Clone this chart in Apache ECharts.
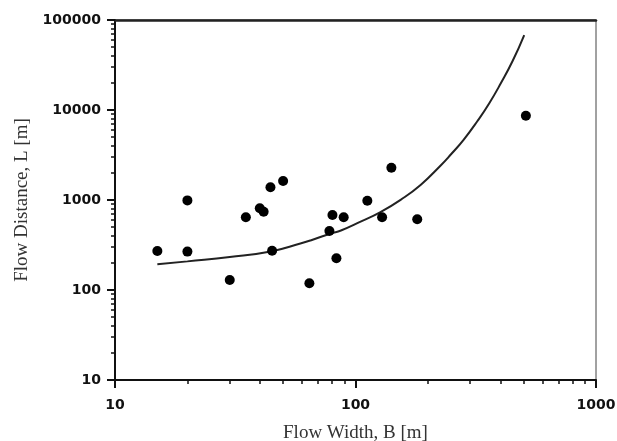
<!DOCTYPE html>
<html>
<head>
<meta charset="utf-8">
<script src="https://cdn.jsdelivr.net/npm/echarts@6/dist/echarts.min.js"></script>
<style>
html,body{margin:0;padding:0;background:#fff;}
#chart{width:617px;height:441px;}
</style>
</head>
<body>
<div id="chart"></div>
<script>
// Observed data: flow width B [m] vs flow distance L [m]
const pointB = [15, 20, 20, 30, 35, 40, 41.5, 44.3, 45, 50, 64.3, 77.9, 80.2, 83.3, 89.3, 112, 129, 141, 180.6, 511];
const pointL = [271, 267, 990, 129, 643, 809, 741, 1384, 273, 1626, 119, 453, 681, 225, 643, 980, 643, 2285, 610, 8650];

// Fitted curve
const curveB = [15, 20, 30, 45, 59, 65, 79, 87, 105, 127, 154, 187, 226, 249, 282, 321, 360, 402, 450, 503];
const curveL = [193, 208, 232, 270, 328, 355, 425, 458, 575, 735, 1005, 1480, 2420, 3200, 4700, 7500, 11900, 19800, 35000, 68100];

// Tick values
const xMajor = [10, 100, 1000];
const xMinor = [20, 30, 40, 50, 60, 70, 80, 90, 200, 300, 400, 500, 600, 700, 800, 900];
const yMajor = [10, 100, 1000, 10000, 100000];
const yMinor = [20, 30, 40, 50, 60, 70, 80, 90, 200, 300, 400, 500, 600, 700, 800, 900,
  2000, 3000, 4000, 5000, 6000, 7000, 8000, 9000, 20000, 30000, 40000, 50000, 60000, 70000, 80000, 90000];

const xTitle = 'Flow Width, B [m]';
const yTitle = 'Flow Distance, L [m]';

const chart = echarts.init(document.getElementById('chart'), null, {renderer: 'canvas'});

const labelStyle = {fontFamily: 'DejaVu Sans', fontWeight: 'bold', fontSize: 14, color: '#111'};
const titleStyle = {fontFamily: 'Liberation Serif', fontSize: 19, color: '#333'};

const option = {
  animation: false,
  backgroundColor: '#fff',
  grid: {left: 115, top: 20, right: 21, bottom: 61, show: true, borderColor: '#444', borderWidth: 1,
    backgroundColor: 'transparent', containLabel: false, outerBoundsMode: 'none'},
  xAxis: [
    {
      type: 'log', logBase: 10, min: 10, max: 1000, position: 'bottom',
      name: xTitle, nameLocation: 'middle', nameGap: 44, nameTextStyle: titleStyle,
      axisLine: {show: true, onZero: false, lineStyle: {color: '#111', width: 2}},
      axisTick: {show: true, inside: false, length: 8, customValues: xMajor, lineStyle: {color: '#111', width: 2}},
      axisLabel: Object.assign({show: true, margin: 18, customValues: xMajor, formatter: v => String(v)}, labelStyle),
      splitLine: {show: false}, minorTick: {show: false}
    },
    {
      type: 'log', logBase: 10, min: 10, max: 1000, position: 'bottom',
      axisLine: {show: false},
      axisTick: {show: true, inside: false, length: 4, customValues: xMinor, lineStyle: {color: '#111', width: 1.5}},
      axisLabel: {show: false},
      splitLine: {show: false}
    },
    {
      type: 'log', logBase: 10, min: 10, max: 1000, position: 'top',
      axisLine: {show: true, onZero: false, lineStyle: {color: '#222', width: 2.5}},
      axisTick: {show: false}, axisLabel: {show: false}, splitLine: {show: false}
    }
  ],
  yAxis: [
    {
      type: 'log', logBase: 10, min: 10, max: 100000, position: 'left',
      name: yTitle, nameLocation: 'middle', nameGap: 83, nameRotate: 90, nameTextStyle: titleStyle,
      axisLine: {show: true, onZero: false, lineStyle: {color: '#111', width: 2}},
      axisTick: {show: true, inside: false, length: 8, customValues: yMajor, lineStyle: {color: '#111', width: 2}},
      axisLabel: Object.assign({show: true, margin: 14, customValues: yMajor, formatter: v => String(v)}, labelStyle),
      splitLine: {show: false}
    },
    {
      type: 'log', logBase: 10, min: 10, max: 100000, position: 'left',
      axisLine: {show: false},
      axisTick: {show: true, inside: false, length: 4, customValues: yMinor, lineStyle: {color: '#111', width: 1.5}},
      axisLabel: {show: false},
      splitLine: {show: false}
    }
  ],
  series: [
    {
      type: 'line', xAxisIndex: 0, yAxisIndex: 0,
      data: curveB.map((b, i) => [b, curveL[i]]),
      smooth: true, showSymbol: false, symbol: 'none',
      lineStyle: {color: '#222', width: 2}, z: 2
    },
    {
      type: 'scatter', xAxisIndex: 0, yAxisIndex: 0,
      data: pointB.map((b, i) => [b, pointL[i]]),
      symbol: 'circle', symbolSize: 10,
      itemStyle: {color: '#000', opacity: 1}, z: 3
    }
  ]
};
chart.setOption(option);
</script>
</body>
</html>
